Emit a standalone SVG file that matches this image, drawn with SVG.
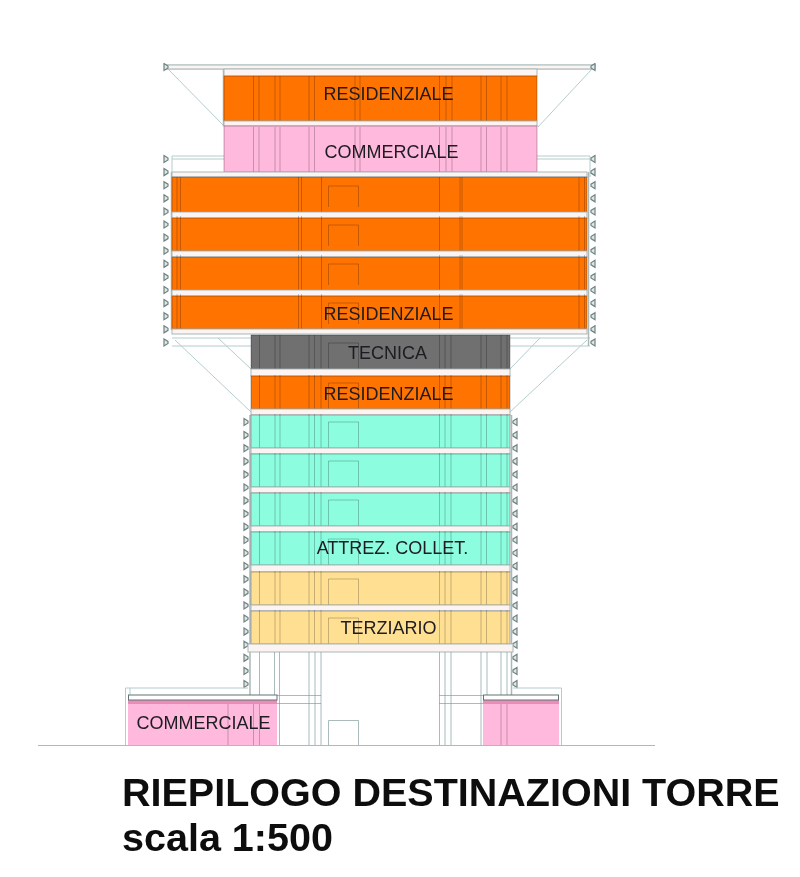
<svg xmlns="http://www.w3.org/2000/svg" xmlns:xlink="http://www.w3.org/1999/xlink" width="800" height="877" viewBox="0 0 800 877">
<style>
text{font-family:"Liberation Sans",Arial,sans-serif;fill:#1c1c22}
.lbl{font-size:18px;text-anchor:middle}
.ttl{font-size:39.500px;font-weight:bold;fill:#111}
.ln{fill:none;stroke:#7f9a9a;stroke-width:.9;opacity:.75}
.lt{fill:none;stroke:#b5cccc;stroke-width:1}
.wall{fill:none;stroke:#aab8b8;stroke-width:1.500}
.slab{fill:#fbf4f2;stroke:#a9b7b7;stroke-width:1}
.res{fill:#ff7300}.com{fill:#ffb9dc}.tec{fill:#6f6f6f}.att{fill:#8dfde0}.ter{fill:#ffdf92}
.fr{fill:none;stroke-width:1;stroke:#000;opacity:.28}
.in{fill:none;stroke:#000;stroke-width:.9;opacity:.25}
.mk{fill:#dfe6e6;stroke:#6f8282;stroke-width:1.200}
</style>
<defs>
<filter id="soft" x="0" y="0" width="100%" height="100%"><feGaussianBlur stdDeviation="0.6"/></filter>
<path id="m-l" class="mk" d="M164 -3.500L168 -1V1L164 3.500Z"/>
<path id="m-r" class="mk" d="M595 -3.500L591 -1V1L595 3.500Z"/>
<path id="tm-l" class="mk" d="M244 -3.500L248 -1V1L244 3.500Z"/>
<path id="tm-r" class="mk" d="M517 -3.500L513 -1V1L517 3.500Z"/>
<path id="tp" class="in" d="M253.500 0V45M259 0V45M275 0V45M280 0V45M309 0V45M314.500 0V45M355 0V45M360 0V45M439.500 0V45M446 0V45M452 0V45M481 0V45M486.500 0V45M501 0V45M507 0V45"/>
<path id="wd" class="in" d="M177 0V35M180.500 0V35M298.500 0V35M301.500 0V35M321.500 0V35M328.500 30V9H358.500V30M439.500 0V35M460 0V35M462 0V35M579 0V35M584.500 0V35"/>
<path id="tw" class="in" d="M259.500 0V34M275 0V34M280 0V34M309 0V34M314.500 0V34M321 0V34M328.500 34V8H358.500V34M439.500 0V34M445 0V34M451 0V34M481 0V34M486.500 0V34M501 0V34M507 0V34"/>
</defs>
<g filter="url(#soft)">
<g id="connectors">
<path class="lt" d="M165 65H596M165 69H596M168 69L223 125M592 69L538 127M172 156H224M172 159H224M537 156H590M537 159H590M172 156V177M590 156V177M172 338H251M172 346H251M510 338H590M510 346H590M175 340L251 412M218 338L251 369M510 369L540 338M510 412L587 340"/>
<path class="wall" d="M250 415V695M511.500 415V695M223.500 69V126M171.500 172V330M588.500 172V346"/>
<path class="ln" d="M38 745.500H655"/>
</g>
<g id="roof"><rect class="slab" x="166" y="65" width="429" height="4"/><rect class="slab" x="224" y="69" width="313" height="7"/>
<use href="#m-l" y="67"/><use href="#m-r" y="67"/></g>
<g id="side-markers">
<use href="#m-l" y="159"/><use href="#m-l" y="172.100"/><use href="#m-l" y="185.200"/><use href="#m-l" y="198.300"/><use href="#m-l" y="211.400"/><use href="#m-l" y="224.500"/><use href="#m-l" y="237.600"/><use href="#m-l" y="250.700"/><use href="#m-l" y="263.800"/><use href="#m-l" y="276.900"/><use href="#m-l" y="290"/><use href="#m-l" y="303.100"/><use href="#m-l" y="316.200"/><use href="#m-l" y="329.300"/><use href="#m-l" y="342.400"/>
<use href="#m-r" y="159"/><use href="#m-r" y="172.100"/><use href="#m-r" y="185.200"/><use href="#m-r" y="198.300"/><use href="#m-r" y="211.400"/><use href="#m-r" y="224.500"/><use href="#m-r" y="237.600"/><use href="#m-r" y="250.700"/><use href="#m-r" y="263.800"/><use href="#m-r" y="276.900"/><use href="#m-r" y="290"/><use href="#m-r" y="303.100"/><use href="#m-r" y="316.200"/><use href="#m-r" y="329.300"/><use href="#m-r" y="342.400"/>
<use href="#tm-l" y="422"/><use href="#tm-l" y="435.100"/><use href="#tm-l" y="448.200"/><use href="#tm-l" y="461.300"/><use href="#tm-l" y="474.400"/><use href="#tm-l" y="487.500"/><use href="#tm-l" y="500.600"/><use href="#tm-l" y="513.700"/><use href="#tm-l" y="526.800"/><use href="#tm-l" y="539.900"/><use href="#tm-l" y="553"/><use href="#tm-l" y="566.100"/><use href="#tm-l" y="579.200"/><use href="#tm-l" y="592.300"/><use href="#tm-l" y="605.400"/><use href="#tm-l" y="618.500"/><use href="#tm-l" y="631.600"/><use href="#tm-l" y="644.700"/><use href="#tm-l" y="657.800"/><use href="#tm-l" y="670.900"/><use href="#tm-l" y="684"/>
<use href="#tm-r" y="422"/><use href="#tm-r" y="435.100"/><use href="#tm-r" y="448.200"/><use href="#tm-r" y="461.300"/><use href="#tm-r" y="474.400"/><use href="#tm-r" y="487.500"/><use href="#tm-r" y="500.600"/><use href="#tm-r" y="513.700"/><use href="#tm-r" y="526.800"/><use href="#tm-r" y="539.900"/><use href="#tm-r" y="553"/><use href="#tm-r" y="566.100"/><use href="#tm-r" y="579.200"/><use href="#tm-r" y="592.300"/><use href="#tm-r" y="605.400"/><use href="#tm-r" y="618.500"/><use href="#tm-r" y="631.600"/><use href="#tm-r" y="644.700"/><use href="#tm-r" y="657.800"/><use href="#tm-r" y="670.900"/><use href="#tm-r" y="684"/>
</g>
<g id="floor-residenziale-top"><rect class="res" x="224" y="76" width="313" height="45"/><rect class="fr" x="224" y="76" width="313" height="45"/><use href="#tp" y="76"/><text class="lbl" x="388.500" y="100">RESIDENZIALE</text></g>
<rect class="slab" x="224" y="121" width="313" height="5"/>
<g id="floor-commerciale-top"><rect class="com" x="224" y="126" width="313" height="46"/><rect class="fr" x="224" y="126" width="313" height="46"/><use href="#tp" y="127"/><text class="lbl" x="391.500" y="158">COMMERCIALE</text></g>
<rect class="slab" x="172" y="172" width="415" height="5"/>
<g id="floor-residenziale-a"><rect class="res" x="172" y="177" width="415" height="35"/><rect class="fr" x="172" y="177" width="415" height="35"/><use href="#wd" y="177"/></g>
<rect class="slab" x="172" y="212" width="415" height="6"/>
<g id="floor-residenziale-b"><rect class="res" x="172" y="218" width="415" height="33"/><rect class="fr" x="172" y="218" width="415" height="33"/><use href="#wd" y="216"/></g>
<rect class="slab" x="172" y="251" width="415" height="6"/>
<g id="floor-residenziale-c"><rect class="res" x="172" y="257" width="415" height="33"/><rect class="fr" x="172" y="257" width="415" height="33"/><use href="#wd" y="255"/></g>
<rect class="slab" x="172" y="290" width="415" height="6"/>
<g id="floor-residenziale-d"><rect class="res" x="172" y="296" width="415" height="33"/><rect class="fr" x="172" y="296" width="415" height="33"/><use href="#wd" y="294"/><text class="lbl" x="388.500" y="320">RESIDENZIALE</text></g>
<rect class="slab" x="172" y="329" width="415" height="5"/>
<g id="floor-tecnica"><rect class="tec" x="251" y="335" width="259" height="34"/><rect class="fr" x="251" y="335" width="259" height="34"/><use href="#tw" y="335"/><text class="lbl" x="387.500" y="359">TECNICA</text></g>
<rect class="slab" x="251" y="369" width="259" height="7"/>
<g id="floor-residenziale-e"><rect class="res" x="251" y="376" width="259" height="33"/><rect class="fr" x="251" y="376" width="259" height="33"/><use href="#tw" y="375"/><text class="lbl" x="388.500" y="400">RESIDENZIALE</text></g>
<rect class="slab" x="251" y="409" width="259" height="6"/>
<g id="floor-attrezz-a"><rect class="att" x="251" y="415" width="259" height="33"/><rect class="fr" x="251" y="415" width="259" height="33"/><use href="#tw" y="414"/></g>
<rect class="slab" x="251" y="448" width="259" height="6"/>
<g id="floor-attrezz-b"><rect class="att" x="251" y="454" width="259" height="33"/><rect class="fr" x="251" y="454" width="259" height="33"/><use href="#tw" y="453"/></g>
<rect class="slab" x="251" y="487" width="259" height="6"/>
<g id="floor-attrezz-c"><rect class="att" x="251" y="493" width="259" height="33"/><rect class="fr" x="251" y="493" width="259" height="33"/><use href="#tw" y="492"/></g>
<rect class="slab" x="251" y="526" width="259" height="6"/>
<g id="floor-attrezz-d"><rect class="att" x="251" y="532" width="259" height="33"/><rect class="fr" x="251" y="532" width="259" height="33"/><use href="#tw" y="531"/><text class="lbl" x="392.500" y="554">ATTREZ. COLLET.</text></g>
<rect class="slab" x="251" y="565" width="259" height="7"/>
<g id="floor-terziario-a"><rect class="ter" x="251" y="572" width="259" height="33"/><rect class="fr" x="251" y="572" width="259" height="33"/><use href="#tw" y="571"/></g>
<rect class="slab" x="251" y="605" width="259" height="6"/>
<g id="floor-terziario-b"><rect class="ter" x="251" y="611" width="259" height="33"/><rect class="fr" x="251" y="611" width="259" height="33"/><use href="#tw" y="610"/><text class="lbl" x="388.500" y="634">TERZIARIO</text></g>
<rect class="slab" x="248" y="644" width="265" height="8"/>
<g id="base">
<path class="ln" d="M259.500 652V745M274.500 652V745M279.500 652V745M309 652V745M315 652V745M321 652V745M328.500 745V720.500H358.500V745M439.500 652V745M445 652V745M451 652V745M481 652V745M487 652V745M501 652V745M507 652V745M277 695.500H321M277 703.500H321M439 695.500H483M439 703.500H483"/>
<path class="lt" d="M125.500 745V688H248M130 745V688M513 688H561.500V745"/>
</g>
<g id="podium-left"><rect class="com" x="128" y="700" width="149" height="45"/><rect x="128" y="700" width="149" height="4" fill="#d86f9c" opacity=".6"/><rect x="128.500" y="695" width="148.500" height="5" fill="#fff" stroke="#5e7474" stroke-width="1"/><path class="in" d="M228 704V745M253.500 704V745M259.500 704V745"/><text class="lbl" x="203.500" y="729">COMMERCIALE</text></g>
<g id="podium-right"><rect class="com" x="483" y="700" width="76" height="45"/><rect x="483" y="700" width="76" height="4" fill="#d86f9c" opacity=".6"/><rect x="483.500" y="695" width="75" height="5" fill="#fff" stroke="#5e7474" stroke-width="1"/><path class="in" d="M501 704V745M507 704V745"/></g>
<g id="title"><text class="ttl" x="122" y="806">RIEPILOGO DESTINAZIONI TORRE</text><text class="ttl" x="122" y="851">scala 1:500</text></g>
</g>
</svg>
